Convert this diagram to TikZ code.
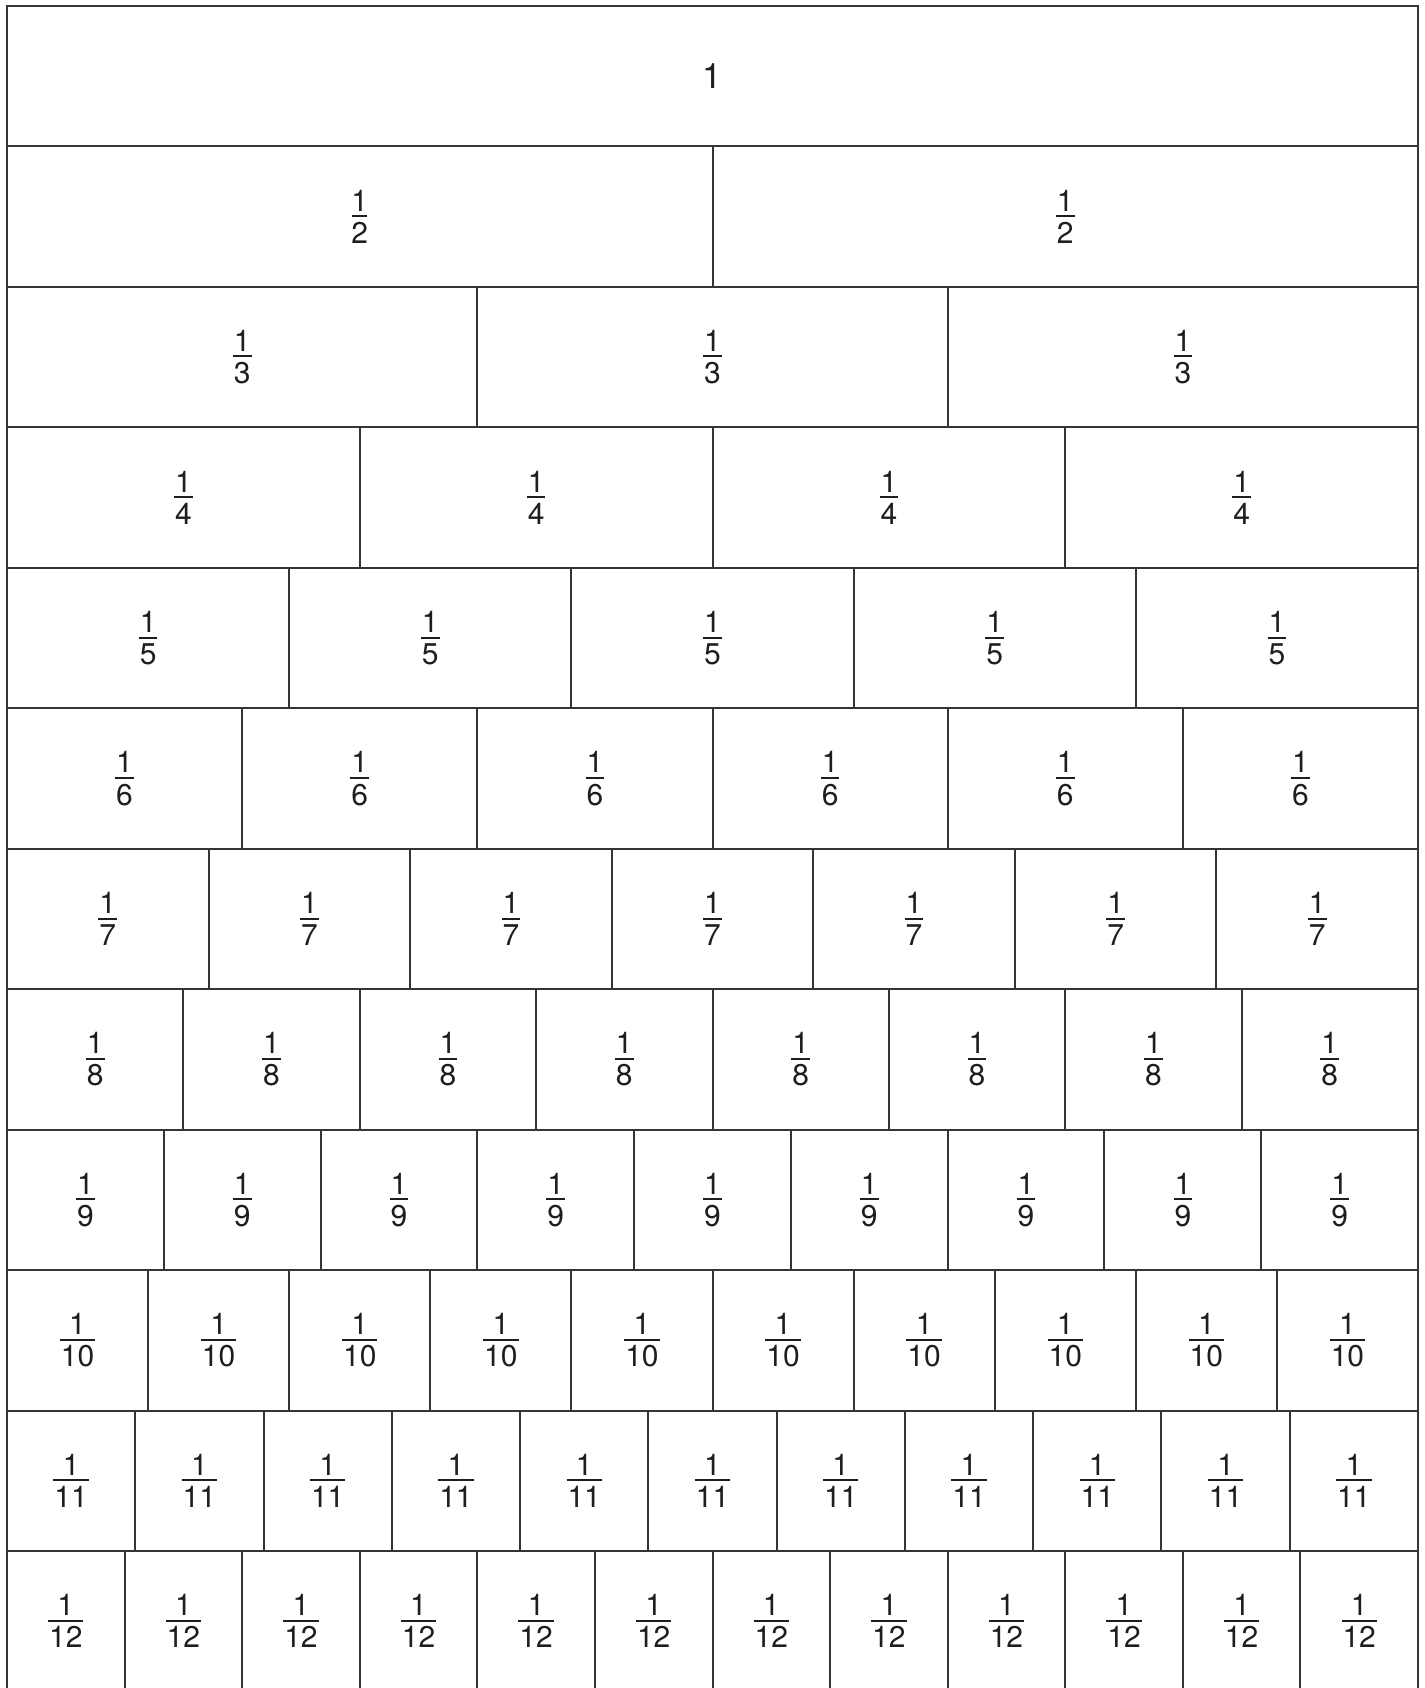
\documentclass[tikz,border=0pt]{standalone}
\usepackage{fontspec}
\setmainfont{TeX Gyre Heros}
\definecolor{linegray}{HTML}{353535}
\definecolor{textblack}{HTML}{1E1E1E}
\newcommand{\fr}[1]{\setbox0\hbox{#1}\dimen0=\wd0\advance\dimen0 by 2pt
$\vcenter{\offinterlineskip\halign{\hfil##\hfil\cr 1\cr\noalign{\kern4pt}\vrule width\dimen0 height 2pt depth 0pt\cr\noalign{\kern5pt}#1\cr}}$}
\tikzset{
  cell/.style={draw=linegray, line width=2pt, inner sep=0pt, outer sep=0pt,
    rectangle, font=\fontsize{30}{36}\selectfont, text=textblack}
}
\begin{document}
\begin{tikzpicture}[x=1pt,y=-1pt]
\useasboundingbox (0,0) rectangle (1424,1688);
\fill[white] (0,0) rectangle (1424,1688);
\clip (0,0) rectangle (1424,1688);
\foreach \n in {1,...,12}{
  \pgfmathsetmacro{\w}{1411/\n}
  \pgfmathsetmacro{\yc}{6+(\n-0.5)*140.45}
  \foreach \k in {1,...,\n}{
    \pgfmathsetmacro{\xc}{7+(\k-0.5)*\w}
    \node[cell, minimum width=\w pt, minimum height=140.45pt] (c-\n-\k) at (\xc,\yc)
      {\ifnum\n=1 {\fontsize{35}{40}\selectfont 1}\else\fr{\n}\fi};
  }
}
\end{tikzpicture}
\end{document}
